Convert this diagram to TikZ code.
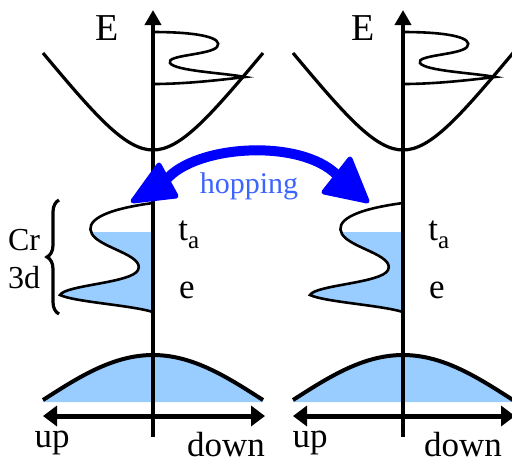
\documentclass[tikz,border=0pt]{standalone}
\usepackage{fontspec}
\setmainfont{Liberation Serif}
\usetikzlibrary{arrows.meta,decorations.pathreplacing}
\definecolor{bandfill}{RGB}{153,204,255}
\definecolor{hopblue}{RGB}{0,0,255}
\definecolor{hoptext}{RGB}{60,100,255}
\tikzset{
  band/.style={line width=1.6pt},
  vband/.style={line width=2pt},
  dos/.style={line width=1.3pt},
  eaxis/.style={line width=2pt,-{Triangle[length=7.5pt,width=8pt]}},
  haxis/.style={line width=2.5pt,{Triangle[length=7pt,width=10pt]}-{Triangle[length=7pt,width=10pt]}},
  lbl/.style={font=\fontsize{17.5}{20}\selectfont,inner sep=0pt,anchor=base},
  elbl/.style={font=\fontsize{19}{22}\selectfont,inner sep=0pt,anchor=base},
  crlbl/.style={font=\fontsize{16}{18}\selectfont,inner sep=0pt,anchor=base},
}
\newcommand\bandpanel{%
  \fill[bandfill] (43,402) -- plot[domain=43:263,samples=60] (\x,{400-45*cos(90*(\x-153)/110)}) -- (263,402) -- cycle;
  \begin{scope}
    \clip (0,232) rectangle (153,330);
    \fill[bandfill] (153,203) .. controls (100,210) and (85,222) .. (92,234) .. controls (100,248) and (145,255) .. (138,270) .. controls (132,283) and (65,285) .. (60,295) .. controls (75,302) and (130,305) .. (153,312) -- cycle;
  \end{scope}
  \draw[dos] (153,203) .. controls (100,210) and (85,222) .. (92,234) .. controls (100,248) and (145,255) .. (138,270) .. controls (132,283) and (65,285) .. (60,295) .. controls (75,302) and (130,305) .. (153,312);
  \draw[dos] (153,32) .. controls (200,32) and (224,38) .. (217,47) .. controls (210,55) and (165,55) .. (170,63) .. controls (175,71) and (225,73) .. (245,77) .. controls (220,80) and (185,84) .. (153,84);
  \draw[band] (43,53) .. controls (95,115) and (125,150) .. (153,150) .. controls (181,150) and (211,115) .. (263,53);
  \draw[vband] plot[domain=43:263,samples=60] (\x,{400-45*cos(90*(\x-153)/110)});
  \coordinate (axbot) at (153,437);
  \coordinate (axtop) at (153,10);
  \draw[eaxis] (axbot) -- (axtop);
  \coordinate (hl) at (43,416);
  \coordinate (hr) at (265,416);
  \draw[haxis] (hl) -- (hr);
  \node[lbl,anchor=base west] (ta) at (178,240) {t\raisebox{-4pt}{\fontsize{12.5}{13}\selectfont a}};
  \node[lbl] (e) at (187,298) {e};
}
\begin{document}
\begin{tikzpicture}[x=0.5pt,y=-0.5pt]
\useasboundingbox (0,0) rectangle (512,463);
\bandpanel
\begin{scope}[xshift=125pt]
\bandpanel
\end{scope}
% labels
\node[elbl] (E1) at (107,40) {E};
\node[elbl] (E2) at (363,40) {E};
\node[lbl] (up1) at (52,447) {up};
\node[lbl] (dn1) at (226,456) {down};
\node[lbl] (up2) at (310,447) {up};
\node[lbl] (dn2) at (463,456) {down};
\node[crlbl] (cr) at (24,250) {Cr};
\node[crlbl] (d3) at (24,288) {3d};
\draw[line width=1.6pt,decorate,decoration={brace,amplitude=6pt}] (59,314) -- (59,200);
% hopping
\coordinate (hopL) at (166,180);
\coordinate (hopR) at (337,175);
\filldraw[hopblue,line join=round,line width=2.5pt] (133,201) -- (159,165) -- (176,196) -- cycle;
\filldraw[hopblue,line join=round,line width=2.5pt] (367,201) -- (350,159) -- (324,192) -- cycle;
\draw[hopblue,line width=5pt] (hopL) .. controls (195,145) and (300,138) .. (hopR);
\node[font=\fontsize{15}{18}\selectfont,text=hoptext,inner sep=0pt,anchor=base] (hop) at (249,193) {hopping};
\end{tikzpicture}
\end{document}
